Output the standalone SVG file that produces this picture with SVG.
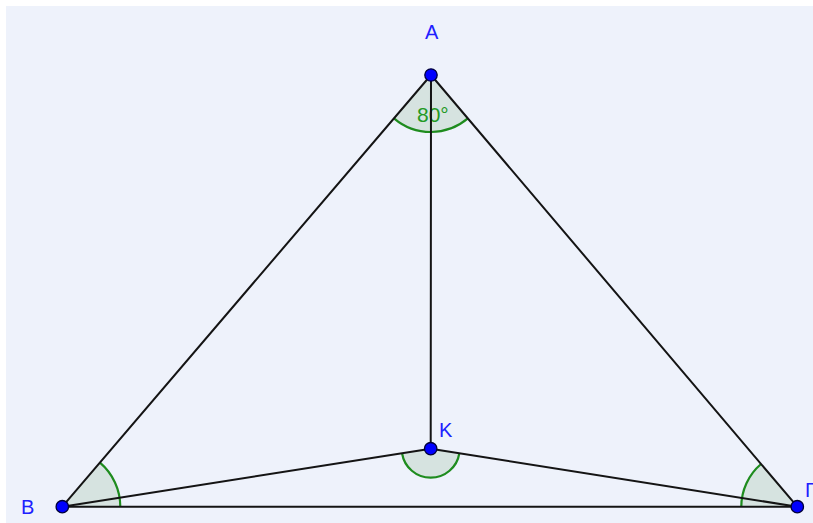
<svg xmlns="http://www.w3.org/2000/svg" width="813" height="523" viewBox="0 0 813 523">
<style>
.seg{stroke:#141414;stroke-width:2;fill:none;stroke-linecap:round}
.ang{fill:#d6e3e0;stroke:none}
.arc{fill:none;stroke:#1e8c1e;stroke-width:2.2}
.pt{fill:#0000ff;stroke:#00003a;stroke-width:1.3}
.lbl{font-family:"Liberation Sans",Arial,sans-serif;font-size:20px;fill:#2020ff}
.alb{font-family:"Liberation Sans",Arial,sans-serif;font-size:21px;fill:#249a24}
</style>
<rect x="0" y="0" width="813" height="523" fill="#ffffff"/>
<rect x="6" y="6" width="807" height="517" fill="#eef2fb"/>
<g id="angles">
<g id="angle-A">
<path class="ang" d="M431,75 L393.98,118.34 A57,57 0 0 0 467.88,118.46 Z"/>
<path class="arc" d="M393.98,118.34 A57,57 0 0 0 467.88,118.46"/>
<text class="alb" x="417" y="122">80°</text>
</g>
<g id="angle-K">
<path class="ang" d="M430.7,448.7 L402.05,453.21 A29,29 0 0 0 459.34,453.23 Z"/>
<path class="arc" d="M402.05,453.21 A29,29 0 0 0 459.34,453.23"/>
</g>
<g id="angle-B">
<path class="ang" d="M62.3,506.7 L120.3,506.7 A58,58 0 0 0 99.97,462.6 Z"/>
<path class="arc" d="M120.3,506.7 A58,58 0 0 0 99.97,462.6"/>
</g>
<g id="angle-G">
<path class="ang" d="M797.3,506.7 L761.07,464 A56,56 0 0 0 741.3,506.7 Z"/>
<path class="arc" d="M761.07,464 A56,56 0 0 0 741.3,506.7"/>
</g>
</g>
<g id="connectors">
<line class="seg" x1="431" y1="75" x2="62.3" y2="506.7"/>
<line class="seg" x1="431" y1="75" x2="797.3" y2="506.7"/>
<line class="seg" x1="62.3" y1="506.7" x2="797.3" y2="506.7"/>
<line class="seg" x1="431" y1="75" x2="430.7" y2="448.7"/>
<line class="seg" x1="430.7" y1="448.7" x2="62.3" y2="506.7"/>
<line class="seg" x1="430.7" y1="448.7" x2="797.3" y2="506.7"/>
</g>
<g id="A">
<circle class="pt" cx="431" cy="75" r="6.2"/>
<text class="lbl" x="425" y="39">A</text>
</g>
<g id="K">
<circle class="pt" cx="430.7" cy="448.7" r="6.2"/>
<text class="lbl" x="439" y="437">K</text>
</g>
<g id="B">
<circle class="pt" cx="62.3" cy="506.7" r="6.2"/>
<text class="lbl" x="21" y="514">B</text>
</g>
<g id="G">
<circle class="pt" cx="797.3" cy="506.7" r="6.2"/>
<text class="lbl" x="805" y="497">Γ</text>
</g>
</svg>
